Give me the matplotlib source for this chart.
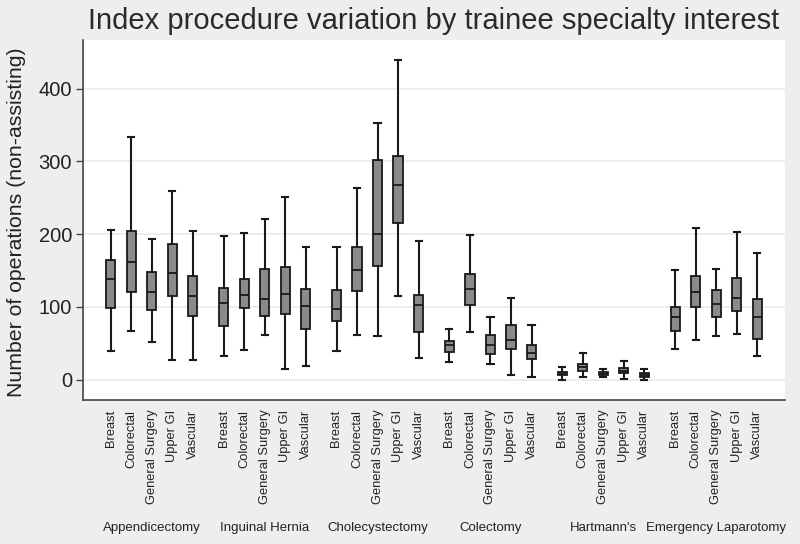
import matplotlib.pyplot as plt
import matplotlib.transforms as mtransforms

plt.rcParams['font.family'] = ['Liberation Sans', 'DejaVu Sans']

procedures = ["Appendicectomy", "Inguinal Hernia", "Cholecystectomy",
              "Colectomy", "Hartmann's", "Emergency Laparotomy"]
specialties = ["Breast", "Colorectal", "General Surgery", "Upper GI", "Vascular"]

# per procedure, per specialty: lower whisker, Q1, median, Q3, upper whisker
appendicectomy = [
    [40, 99, 138, 164, 206],
    [67, 120, 162, 205, 334],
    [52, 96, 120, 148, 193],
    [27, 115, 146, 187, 259],
    [27, 87, 115, 143, 205],
]
inguinal_hernia = [
    [32, 74, 105, 126, 197],
    [41, 98, 116, 138, 202],
    [61, 87, 111, 152, 221],
    [14, 90, 118, 155, 251],
    [19, 69, 101, 125, 182],
]
cholecystectomy = [
    [40, 80, 97, 123, 183],
    [62, 122, 151, 182, 263],
    [60, 156, 200, 302, 353],
    [115, 215, 268, 308, 440],
    [30, 65, 103, 117, 190],
]
colectomy = [
    [24, 38, 48, 53, 70],
    [65, 103, 124, 145, 199],
    [22, 35, 48, 61, 86],
    [7, 42, 55, 75, 112],
    [3, 28, 36, 47, 75],
]
hartmanns = [
    [0, 6, 9, 11, 18],
    [4, 12, 17, 21, 36],
    [3, 6, 8, 11, 14],
    [1, 9, 12, 16, 25],
    [0, 4, 7, 9, 15],
]
emergency_laparotomy = [
    [42, 67, 86, 100, 151],
    [54, 100, 120, 143, 208],
    [60, 86, 104, 123, 152],
    [63, 94, 112, 140, 203],
    [33, 56, 86, 111, 174],
]
all_data = [appendicectomy, inguinal_hernia, cholecystectomy,
            colectomy, hartmanns, emergency_laparotomy]

y_ticks = [0, 100, 200, 300, 400]

fig = plt.figure(figsize=(8, 5.44), dpi=100, facecolor='#eeeeee')
ax = fig.add_axes([83 / 800, 1 - 400 / 544, (785 - 83) / 800, (400 - 40) / 544])
ax.set_facecolor('white')

stats = []
positions = []
labels = []
for g, proc in enumerate(all_data):
    for i, row in enumerate(proc):
        lo, q1, med, q3, hi = row
        stats.append(dict(whislo=lo, q1=q1, med=med, q3=q3, whishi=hi, fliers=[]))
        positions.append(g * 5.5 + i)
        labels.append(specialties[i])

line_color = '#1a1a1a'
ax.bxp(stats, positions=positions, widths=0.45, patch_artist=True,
       showfliers=False,
       boxprops=dict(facecolor='#8a8a8a', edgecolor=line_color, linewidth=1.3),
       medianprops=dict(color=line_color, linewidth=1.3),
       whiskerprops=dict(color=line_color, linewidth=1.5),
       capprops=dict(color=line_color, linewidth=1.5),
       capwidths=0.3, zorder=3)

ax.set_xlim(-1.35, 32.85)
ax.set_ylim(-28, 467)
ax.set_yticks(y_ticks)
ax.set_yticklabels([str(t) for t in y_ticks], fontsize=14.5, color='#222222')
ax.yaxis.grid(True, color='#eaeaea', linewidth=1.2, zorder=0)
ax.set_axisbelow(True)

ax.set_xticks(positions)
ax.set_xticklabels(labels, rotation=90, fontsize=9.3, va='top', ha='center', color='#222222')
ax.tick_params(axis='x', length=0, pad=7)
ax.tick_params(axis='y', length=5, width=1, color='#444444', pad=3)

for side in ['top', 'right']:
    ax.spines[side].set_visible(False)
ax.spines['left'].set_color('#444444')
ax.spines['bottom'].set_color('#444444')
ax.spines['left'].set_linewidth(1.2)
ax.spines['bottom'].set_linewidth(1.2)

fig.text(17 / 800, 1 - 222 / 544, 'Number of operations (non-assisting)', rotation=90,
         ha='center', va='center', fontsize=15.3, color='#222222')

trans = mtransforms.blended_transform_factory(ax.transData, fig.transFigure)
for g, proc in enumerate(procedures):
    ax.text(g * 5.5 + 2, 1 - 528 / 544, proc, transform=trans, ha='center', va='center',
            fontsize=9.5, color='#222222')

fig.text(434 / 800, 1 - 29 / 544, 'Index procedure variation by trainee specialty interest',
         ha='center', va='baseline', fontsize=21, color='#2a2a2a')

fig.savefig('out.png', dpi=100, facecolor=fig.get_facecolor())
